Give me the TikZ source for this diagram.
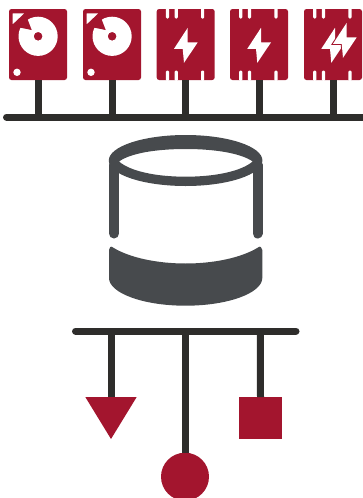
\documentclass[tikz,border=0pt]{standalone}
\definecolor{cardred}{HTML}{A3152E}
\definecolor{busdark}{HTML}{2E2D2B}
\definecolor{cylgray}{HTML}{474A4D}
\tikzset{
  card/.style={fill=cardred,rounded corners=2.5pt,minimum width=58pt,minimum height=71pt,inner sep=0pt,outer sep=0pt},
  busline/.style={draw=busdark,line width=7pt,line cap=round},
  stem/.style={draw=busdark,line width=7pt,line cap=butt},
  cyl/.style={fill=cylgray},
  mark shape/.style={fill=cardred,inner sep=0pt,outer sep=0pt}
}
\newcommand{\boltpath}{(2,-8.2) -- (-11.7,12.8) -- (-3,12.8) -- (-1.7,26.8) -- (12,6.4) -- (2,6.4) -- cycle}
\newcommand{\diskface}[1]{%
  \begin{scope}[shift={(#1.center)},x=1pt,y=-1pt]
    \fill[white,rounded corners=0.5pt] (-25.4,-31.2) -- (-13.8,-31.2) -- (-25.4,-20.2) -- cycle;
    \fill[white,even odd rule] (0.1,-8.2) circle[radius=19.6] (0.1,-8.2) circle[radius=4.4];
    \fill[cardred] (-6.3,-14.5) -- (-11.5,-28) -- (-21,-17.5) -- cycle;
    \fill[white] (-21,27.8) circle[radius=3.7];
  \end{scope}}
\begin{document}
\begin{tikzpicture}[x=1pt,y=-1pt]
\useasboundingbox (0,0) rectangle (363,498);
\node[card] (d1) at (38,44.5) {};
\node[card] (d2) at (112,44.5) {};
\node[card] (f1) at (185.7,44.5) {};
\node[card] (f2) at (259,44.5) {};
\node[card] (f3) at (333,44.5) {};
\coordinate (tl) at (6.5,117);
\coordinate (tr) at (364,117);
\coordinate (t1) at (38,117);
\coordinate (t2) at (112,117);
\coordinate (t3) at (185.7,117);
\coordinate (t4) at (259,117);
\coordinate (t5) at (333,117);
\draw[busline] (tl) -- (tr);
\draw[stem] (d1.south) -- (t1);
\draw[stem] (d2.south) -- (t2);
\draw[stem] (f1.south) -- (t3);
\draw[stem] (f2.south) -- (t4);
\draw[stem] (f3.south) -- (t5);
\diskface{d1}
\diskface{d2}
\foreach \c in {f1,f2,f3}{
  \foreach \dx in {-18.3,-9.5,16.9}{
    \fill[white,rounded corners=1.2pt] ([xshift=\dx pt-1.6pt,yshift=1pt]\c.north) -- ([xshift=\dx pt-1.6pt,yshift=-9.5pt]\c.north) -- ([xshift=\dx pt+1.6pt,yshift=-9.5pt]\c.north) -- ([xshift=\dx pt+1.6pt,yshift=1pt]\c.north) -- cycle;
    \fill[white,rounded corners=1.2pt] ([xshift=\dx pt-1.6pt,yshift=-1pt]\c.south) -- ([xshift=\dx pt-1.6pt,yshift=9.5pt]\c.south) -- ([xshift=\dx pt+1.6pt,yshift=9.5pt]\c.south) -- ([xshift=\dx pt+1.6pt,yshift=-1pt]\c.south) -- cycle;
  }
}
\begin{scope}[shift={(f1.center)},yshift=8.5pt]\fill[white] \boltpath;\end{scope}
\begin{scope}[shift={(f2.center)},yshift=8.5pt]\fill[white] \boltpath;\end{scope}
\begin{scope}[shift={(f3.center)},yshift=8.5pt]\fill[white] \boltpath;\end{scope}
\begin{scope}[shift={(f3.center)},xshift=11.7pt,yshift=13.5pt]
  \draw[cardred,line width=2pt] \boltpath;
  \fill[white] \boltpath;
\end{scope}
\draw[cylgray,line width=10pt,line cap=round] (114,165) coordinate (lg1) -- (114,233.5) coordinate (lg1e);
\draw[cylgray,line width=10pt,line cap=round] (257.5,165) coordinate (lg2) -- (257.5,233.5) coordinate (lg2e);
\fill[cylgray,even odd rule] (185.6,160.5) ellipse[x radius=76.8,y radius=25.5]
  (119,161.5) .. controls (130,153.5) and (155,149) .. (185.7,149)
  .. controls (216,149) and (241.5,153.5) .. (252.7,161.5)
  .. controls (241.5,171) and (216,176.7) .. (185.7,176.7)
  .. controls (155,176.7) and (130,171) .. (119,161.5) -- cycle;
\fill[cyl] (109,250) .. controls (109,247.5) and (111,245.5) .. (113,247.5)
  .. controls (130,258) and (158,263.5) .. (185.6,263.5)
  .. controls (213,263.5) and (241,258) .. (258,247.5)
  .. controls (260,245.5) and (262.3,247.5) .. (262.3,250)
  -- (262.3,278)
  .. controls (262.3,293) and (228,305.7) .. (185.6,305.7)
  .. controls (143,305.7) and (109,293) .. (109,278) -- cycle;
\coordinate (bl) at (75.5,331);
\coordinate (br) at (296,331);
\coordinate (b1) at (111,331);
\coordinate (b2) at (185,331);
\coordinate (b3) at (260.3,331);
\draw[busline] (bl) -- (br);
\coordinate (tri) at (111,397);
\node[mark shape,circle,minimum size=48pt] (circ) at (185,476.7) {};
\node[mark shape,rectangle,minimum width=43pt,minimum height=42.3pt] (sq) at (260.5,418.2) {};
\fill[cardred] (85.3,397) -- (136.7,397) -- (111,439) -- cycle;
\draw[stem] (b1) -- (tri);
\draw[stem] (b2) -- (circ.north);
\draw[stem] (b3) -- (sq.north);
\end{tikzpicture}
\end{document}
